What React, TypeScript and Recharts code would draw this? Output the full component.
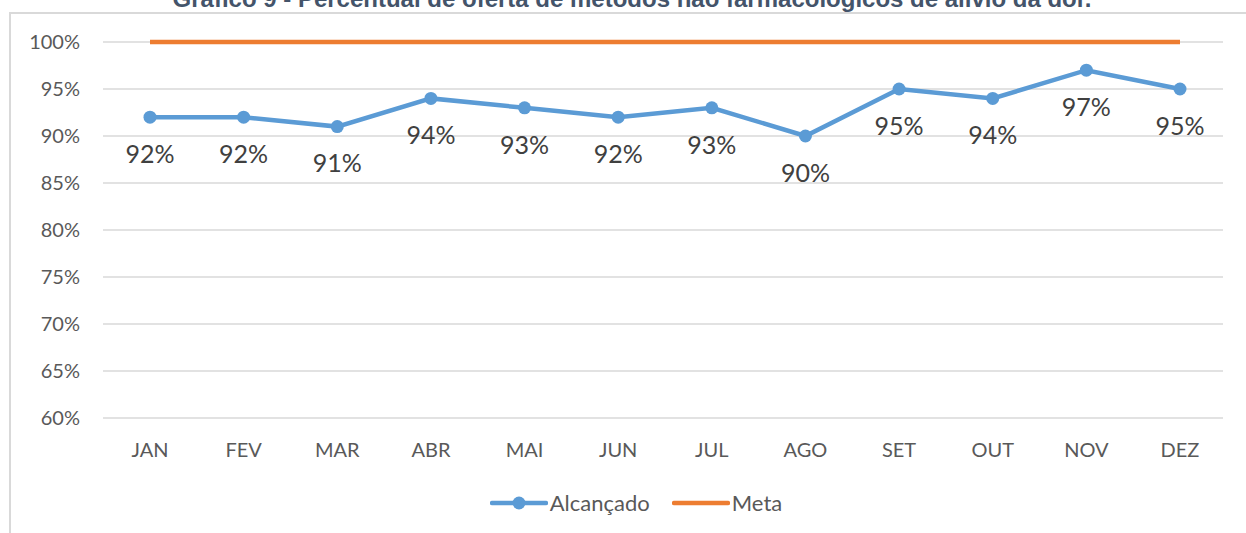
import { LineChart, Line, XAxis, YAxis, CartesianGrid, Legend, LabelList } from 'recharts'

const months = ['JAN', 'FEV', 'MAR', 'ABR', 'MAI', 'JUN', 'JUL', 'AGO', 'SET', 'OUT', 'NOV', 'DEZ']
const alcancado = [92, 92, 91, 94, 93, 92, 93, 90, 95, 94, 97, 95]
const meta = [100, 100, 100, 100, 100, 100, 100, 100, 100, 100, 100, 100]
const yTicks = [60, 65, 70, 75, 80, 85, 90, 95, 100]

const title = 'Gráfico 9 - Percentual de oferta de métodos não farmacológicos de alívio da dor.'

const data = months.map((m, i) => ({ mes: m, alcancado: alcancado[i], meta: meta[i] }))

const font = 'Lato, "Open Sans", sans-serif'

function LegendContent() {
    return (
        <div style={{ display: 'flex', justifyContent: 'center', alignItems: 'center', paddingLeft: 26, fontFamily: font, fontSize: 22, color: '#595959' }}>
            <svg width={58} height={16} style={{ marginRight: 2 }}>
                <line x1={2} y1={8} x2={56} y2={8} stroke="#5b9bd5" strokeWidth={4.5} strokeLinecap="round" />
                <circle cx={29} cy={8} r={6.5} fill="#5b9bd5" />
            </svg>
            <span>Alcançado</span>
            <svg width={58} height={16} style={{ marginLeft: 22, marginRight: 2 }}>
                <line x1={2} y1={8} x2={56} y2={8} stroke="#ed7d31" strokeWidth={4.5} strokeLinecap="round" />
            </svg>
            <span>Meta</span>
        </div>
    )
}

export default function App() {
    return (
        <div style={{ position: 'absolute', left: 0, top: 0, width: 1246, height: 533, overflow: 'hidden', background: '#fff' }}>
            <div
                style={{
                    position: 'absolute',
                    left: 9,
                    top: 12,
                    width: 1300,
                    height: 600,
                    borderLeft: '2px solid #d9d9d9',
                    borderTop: '2px solid #d9d9d9',
                }}
            />
            <div
                style={{
                    position: 'absolute',
                    left: 0,
                    width: 1264,
                    top: -15,
                    textAlign: 'center',
                    fontFamily: '"Liberation Sans", Arial, sans-serif',
                    fontWeight: 'bold',
                    fontSize: 24,
                    color: '#44546a',
                    whiteSpace: 'nowrap',
                }}
            >
                {title}
            </div>
            <LineChart
                width={1246}
                height={533}
                data={data}
                margin={{ top: 42, right: 23, left: 23, bottom: 14 }}
                style={{ position: 'absolute', left: 0, top: 0 }}
            >
                <CartesianGrid stroke="#d9d9d9" strokeWidth={1.5} vertical={false} />
                <XAxis
                    dataKey="mes"
                    axisLine={false}
                    tickLine={false}
                    tickSize={0}
                    tickMargin={25}
                    height={71}
                    padding={{ left: 47, right: 43 }}
                    tick={{ fill: '#595959', fontSize: 20, fontFamily: font }}
                />
                <YAxis
                    domain={[60, 100]}
                    ticks={yTicks}
                    axisLine={false}
                    tickLine={false}
                    tickSize={0}
                    tickMargin={23}
                    width={80}
                    tickFormatter={(v) => `${v}%`}
                    tick={{ fill: '#595959', fontSize: 20, fontFamily: font }}
                />
                <Legend verticalAlign="bottom" height={30} content={<LegendContent />} />
                <Line
                    dataKey="meta"
                    stroke="#ed7d31"
                    strokeWidth={4.5}
                    dot={false}
                    activeDot={false}
                    isAnimationActive={false}
                />
                <Line
                    dataKey="alcancado"
                    stroke="#5b9bd5"
                    strokeWidth={4.5}
                    dot={{ r: 6.5, fill: '#5b9bd5', stroke: '#5b9bd5', strokeWidth: 0 }}
                    activeDot={false}
                    isAnimationActive={false}
                >
                    <LabelList
                        dataKey="alcancado"
                        position="bottom"
                        offset={28}
                        formatter={(v: any) => `${v}%`}
                        style={{ fill: '#404040', fontSize: 25, fontFamily: font }}
                    />
                </Line>
            </LineChart>
        </div>
    )
}
